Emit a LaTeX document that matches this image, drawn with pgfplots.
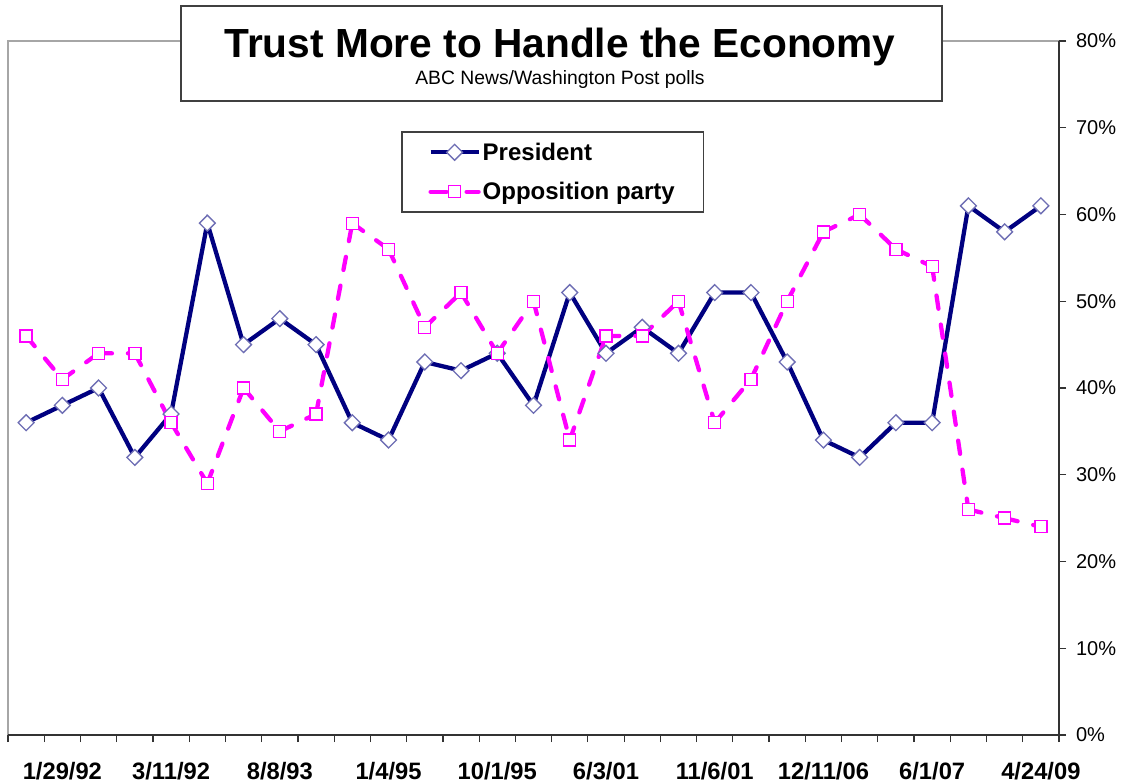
\documentclass[border=0pt]{standalone}
\usepackage{pgfplots}
\pgfplotsset{compat=1.18}
\usepackage{fontspec}
\setmainfont{Liberation Sans}
\definecolor{navy}{RGB}{0,0,128}
\definecolor{mkblue}{RGB}{110,110,180}
\definecolor{mag}{RGB}{255,0,255}
\pgfplotstableread{
x pres opp
1 36 46
2 38 41
3 40 44
4 32 44
5 37 36
6 59 29
7 45 40
8 48 35
9 45 37
10 36 59
11 34 56
12 43 47
13 42 51
14 44 44
15 38 50
16 51 34
17 44 46
18 47 46
19 44 50
20 51 36
21 51 41
22 43 50
23 34 58
24 32 60
25 36 56
26 36 54
27 61 26
28 58 25
29 61 24
}\datatable
% opposition series split into single segments (dash pattern restarts at each point, as in the original)
\pgfplotstableread{
x y
1 46
2 41
nan nan
2 41
3 44
nan nan
3 44
4 44
nan nan
4 44
5 36
nan nan
5 36
6 29
nan nan
6 29
7 40
nan nan
7 40
8 35
nan nan
8 35
9 37
nan nan
9 37
10 59
nan nan
10 59
11 56
nan nan
11 56
12 47
nan nan
12 47
13 51
nan nan
13 51
14 44
nan nan
14 44
15 50
nan nan
15 50
16 34
nan nan
16 34
17 46
nan nan
17 46
18 46
nan nan
18 46
19 50
nan nan
19 50
20 36
nan nan
20 36
21 41
nan nan
21 41
22 50
nan nan
22 50
23 58
nan nan
23 58
24 60
nan nan
24 60
25 56
nan nan
25 56
26 54
nan nan
26 54
27 26
nan nan
27 26
28 25
nan nan
28 25
29 24
}\oppsegs
\begin{document}
\begin{tikzpicture}
\useasboundingbox[fill=white] (0pt,0pt) rectangle (842.25pt,-588pt);
\begin{axis}[
  at={(6pt,-551.25pt)}, anchor=south west,
  width=788.25pt, height=520.5pt, scale only axis,
  xmin=0.5, xmax=29.5, ymin=0, ymax=80,
  axis line style={draw=none},
  xtick={0.5,1.5,...,29.5}, xticklabels={},
  extra x ticks={2,5,...,29},
  extra x tick labels={1/29/92,3/11/92,8/8/93,1/4/95,10/1/95,6/3/01,11/6/01,12/11/06,6/1/07,4/24/09},
  extra x tick style={major tick length=0pt, xticklabel style={font=\bfseries\fontsize{17.8}{20}\selectfont, yshift=-17pt}},
  xtick pos=bottom, ytick pos=right,
  ytick={0,10,...,80},
  yticklabels={0\%,10\%,20\%,30\%,40\%,50\%,60\%,70\%,80\%},
  yticklabel style={font=\fontsize{15}{18}\selectfont, xshift=4pt},
  tick align=outside, major tick length=5.25pt,
  tick style={black!80, line width=0.9pt},
  clip=false,
  unbounded coords=jump,
  legend cell align=left,
  legend style={at={(0.374,0.870)}, anchor=north west, draw=black!75, line width=1.1pt, fill=white,
    inner xsep=20pt, inner ysep=6.5pt, row sep=12pt,
    font=\bfseries\fontsize{18}{21}\selectfont,
    nodes={inner sep=1.5pt}},
  legend image code/.code={\draw[mark repeat=2,mark phase=2] plot coordinates {(0pt,0pt) (18pt,0pt) (36pt,0pt)};},
]
\draw[gray!70, line width=0.9pt] (rel axis cs:0,0) -- (rel axis cs:0,1) -- (rel axis cs:1,1);
\draw[black!80, line width=0.9pt] (rel axis cs:0,0) -- (rel axis cs:1,0) -- (rel axis cs:1,1);
\addplot[navy, line width=3.2pt, mark=square*, mark size=4.2pt,
  mark options={rotate=45, fill=white, draw=mkblue, line width=1pt, solid}]
  table[x=x, y=pres] {\datatable};
\addlegendentry{President}
\addplot[forget plot, mag, line width=3.2pt, dash pattern=on 10pt off 12pt, line cap=round, no markers]
  table[x=x, y=y] {\oppsegs};
\addplot[forget plot, only marks, mark=square*, mark size=4.5pt,
  mark options={fill=white, draw=mag, line width=1pt, solid}]
  table[x=x, y=opp] {\datatable};
\addlegendimage{mag, line width=3.2pt, dash pattern=on 12pt off 15pt, line cap=round, mark=square*, mark size=4.5pt,
  mark options={fill=white, draw=mag, line width=1pt, solid}}
\addlegendentry{Opposition party}
\end{axis}
\draw[black!75, line width=1.1pt, fill=white] (135.75pt,-4.5pt) rectangle (706.5pt,-75.75pt);
\node[anchor=base, inner sep=0pt] at (420pt,-43pt) {\bfseries\fontsize{30.5}{36}\selectfont Trust More to Handle the Economy};
\node[anchor=base, inner sep=0pt] at (420pt,-63.75pt) {\fontsize{14.5}{17}\selectfont ABC News/Washington Post polls};
\end{tikzpicture}
\end{document}
